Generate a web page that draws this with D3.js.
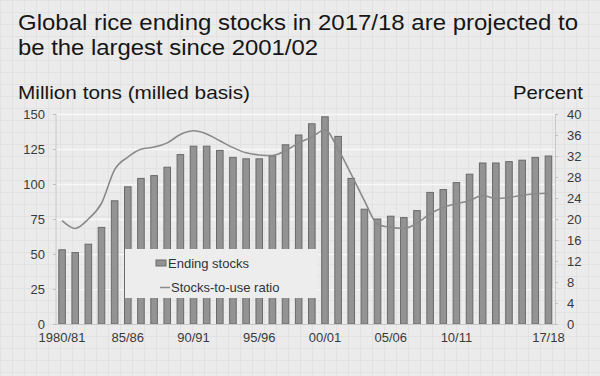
<!DOCTYPE html>
<html><head><meta charset="utf-8">
<script src="https://cdn.jsdelivr.net/npm/d3@7"></script>
<style>body{margin:0;background:#ebebeb}svg{display:block;font-family:"Liberation Sans",Arial,sans-serif}</style>
</head><body><svg id="c" width="600" height="376"></svg>
<script>
const categories = ["1980/81","81/82","82/83","83/84","84/85","85/86","86/87","87/88","88/89","89/90",
"90/91","91/92","92/93","93/94","94/95","95/96","96/97","97/98","98/99","99/00",
"00/01","01/02","02/03","03/04","04/05","05/06","06/07","07/08","08/09","09/10",
"10/11","11/12","12/13","13/14","14/15","15/16","16/17","17/18"];
const endingStocks = [53,51,57,69,88,98,104,106,112,121,127,127,124,119,118,118,120,128,135,143,148,134,104,82,75,77,76,81,94,96,101,107,115,115,116,117,119,120];
const stocksToUse = [19.7,18.2,20,23,29.4,31.8,33.3,33.7,34.5,36.1,36.8,36.2,34.9,33.6,32.6,32.2,32.1,33,34.5,35.6,37,33.3,28.5,23.5,19,18.4,18.2,19.2,21,22.2,22.9,23.5,24.5,23.9,24.1,24.5,24.8,24.9];
const xTickLabels = ["1980/81","85/86","90/91","95/96","00/01","05/06","10/11","17/18"];
const leftTicks = [0,25,50,75,100,125,150];
const rightTicks = [0,4,8,12,16,20,24,28,32,36,40];

const svg = d3.select("#c");
const L = 56, R = 555, T = 114, B = 324;
svg.append("rect").attr("width",600).attr("height",376).attr("fill","#ebebeb");
// faint graph-paper texture
const paper = svg.append("g").attr("stroke","#e2e2e2").attr("stroke-width",1);
d3.range(0,600,12).forEach(v=>paper.append("line").attr("x1",v+0.5).attr("x2",v+0.5).attr("y1",0).attr("y2",376));
d3.range(0,376,12).forEach(v=>paper.append("line").attr("y1",v+0.5).attr("y2",v+0.5).attr("x1",0).attr("x2",600));

const x = d3.scaleBand().domain(categories).range([L-0.5, R]).paddingInner(0.5).paddingOuter(0.25);
const yL = d3.scaleLinear().domain([0,150]).range([B,T]);
const yR = d3.scaleLinear().domain([0,40]).range([B,T]);

// gridlines
svg.append("g").selectAll("line").data(leftTicks.slice(1)).join("line")
  .attr("x1",L).attr("x2",R).attr("y1",d=>Math.round(yL(d))+0.5).attr("y2",d=>Math.round(yL(d))+0.5)
  .attr("stroke","#f8f8f8").attr("stroke-width",1.5);
svg.append("line").attr("x1",R+0.5).attr("x2",R+0.5).attr("y1",T).attr("y2",B).attr("stroke","#d0d0d0");

// bars
svg.append("g").selectAll("rect").data(endingStocks).join("rect")
  .attr("x",(d,i)=>x(categories[i]))
  .attr("width",x.bandwidth())
  .attr("y",d=>yL(d)).attr("height",d=>B-yL(d))
  .attr("fill","#939393").attr("stroke","#6a6a6a").attr("stroke-width",1);

// legend box covering bars
const lg = svg.append("g");
lg.append("rect").attr("x",125).attr("y",249).attr("width",193).attr("height",49).attr("fill","#ededed");
lg.append("rect").attr("x",156).attr("y",260).attr("width",10).attr("height",6).attr("fill","#939393").attr("stroke","#6a6a6a");
lg.append("text").attr("x",168).attr("y",267.5).attr("font-size",13).attr("fill","#333").text("Ending stocks");
lg.append("line").attr("x1",160).attr("x2",170).attr("y1",287.5).attr("y2",287.5).attr("stroke","#8c8c8c").attr("stroke-width",1.5);
lg.append("text").attr("x",171).attr("y",292).attr("font-size",13).attr("fill","#333").text("Stocks-to-use ratio");

// line
const line = d3.line().x((d,i)=>x(categories[i])+x.bandwidth()/2).y(d=>yR(d)).curve(d3.curveMonotoneX);
svg.append("path").datum(stocksToUse).attr("d",line).attr("fill","none").attr("stroke","#8a8a8a").attr("stroke-width",1.6);

// axes
const axL = svg.append("g").attr("transform",`translate(${L},0)`)
  .call(d3.axisLeft(yL).tickValues(leftTicks).tickSize(3).tickPadding(8));
const axR = svg.append("g").attr("transform",`translate(${R},0)`)
  .call(d3.axisRight(yR).tickValues(rightTicks).tickSize(3).tickPadding(9));
const axB = svg.append("g").attr("transform",`translate(0,${B})`)
  .call(d3.axisBottom(x).tickValues(xTickLabels).tickSize(0).tickPadding(9));
[axL,axR,axB].forEach(a=>{
  a.selectAll("path.domain").attr("stroke","#c8c8c8");
  a.selectAll(".tick line").attr("stroke","#c0c0c0");
  a.selectAll("text").attr("font-size",13).attr("fill","#3a3a3a").attr("font-family","Liberation Sans, Arial, sans-serif");
});
axL.select("path.domain").attr("d",`M0,${T}V${B}`);

// titles
const tt = (xp,yp,size,len,txt,anchor)=>svg.append("text").attr("x",xp).attr("y",yp).attr("font-size",size)
  .attr("fill","#161616").attr("textLength",len).attr("lengthAdjust","spacingAndGlyphs")
  .attr("text-anchor",anchor||"start").text(txt);
tt(18,30,22.5,560,"Global rice ending stocks in 2017/18 are projected to");
tt(18,55,22.5,300,"be the largest since 2001/02");
tt(18,99,18.5,232,"Million tons (milled basis)");
tt(513,99,18.5,70,"Percent");
</script></body></html>
